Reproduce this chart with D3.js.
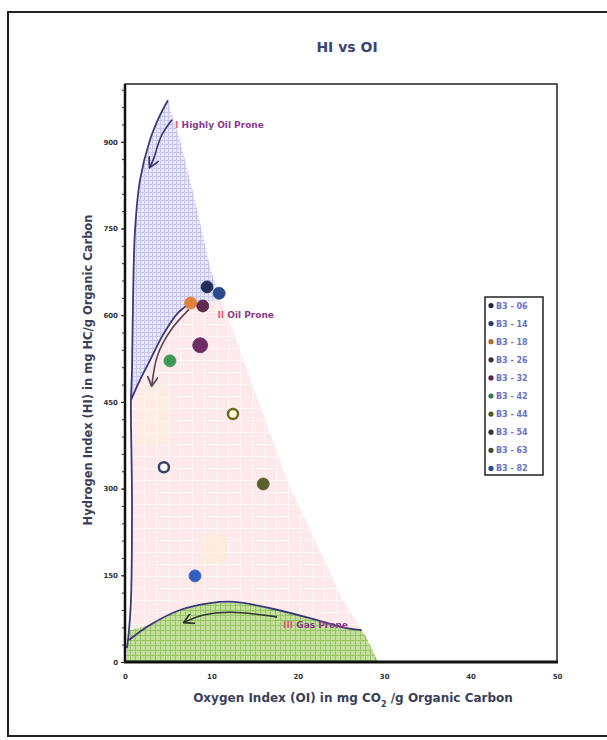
<!DOCTYPE html>
<meta charset="utf-8">
<style>
    body { margin: 0; background: #fff; }
    .tick text { font-family: "DejaVu Sans", sans-serif; font-size: 7px; font-weight: bold; fill: #333; }
    .axis path { display: none; }
    .axis line { stroke: #222; }
    .lbl { font-family: "DejaVu Sans", sans-serif; font-size: 9px; font-weight: bold; }
</style>
<svg width="607" height="740"></svg>
<script src="https://d3js.org/d3.v7.min.js"></script>
<script>

// samples
var samples = ["B3 - 06", "B3 - 14", "B3 - 18", "B3 - 26", "B3 - 32", "B3 - 42", "B3 - 44", "B3 - 54", "B3 - 63", "B3 - 82"];
var oiValues = [9.5, 10.9, 7.6, 9.0, 8.7, 5.2, 12.5, 4.5, 16.0, 8.1];
var hiValues = [649, 638, 621, 616, 548, 521, 429, 337, 308, 149];
var colors = ["#262b5a", "#2b4a8e", "#e0823a", "#5e2a4e", "#6b2d62", "#3d9a55", "#6b6a1f", "#3a4060", "#57602e", "#2f5fbf"];
var hollow = [false, false, false, false, false, false, true, true, false, false];
var sizes = [6, 6, 6, 6, 7.5, 6, 5, 5, 6, 6];

var xTicks = [0, 10, 20, 30, 40, 50];
var yTicks = [0, 150, 300, 450, 600, 750, 900];

// kerogen type fields, [OI, HI]
var leftEdge = [[0.23, 24], [0.46, 55], [0.69, 107], [0.81, 280], [0.69, 419], [0.69, 453], [0.81, 505], [0.93, 626], [1.16, 747], [1.74, 834], [2.89, 903], [4.05, 946], [4.98, 972]];
var rightEdge = [[4.98, 972], [5.44, 946], [6.37, 903], [8.1, 799], [9.84, 683], [11.1, 626], [11.6, 609], [15.4, 453], [18.75, 315], [25.2, 107], [27.4, 55], [27.8, 47], [29.3, 0]];
var typeOneTwo = [[0.69, 453], [1.74, 488], [2.89, 522], [4.4, 566], [6.13, 604], [7.75, 623], [11.1, 626]];
var gasCurve = [[0.46, 38], [2.89, 64], [6.37, 90], [9.84, 102], [12.7, 104], [16.8, 93], [21.4, 76], [25.5, 59], [27.4, 55]];

var arrowTop = [[5.44, 938], [4.2, 910], [3.3, 870], [2.9, 857]];
var arrowMid = [[7.4, 610], [5.3, 574], [3.8, 532], [3.1, 479]];
var arrowGas = [[17.6, 78], [12.2, 86], [9.0, 81], [6.9, 69]];

var fieldLabels = [
    {num: "I", text: "Highly Oil Prone", at: [5.8, 924]},
    {num: "II", text: "Oil Prone", at: [10.7, 595]},
    {num: "III", text: "Gas Prone", at: [18.3, 58]}
];

var svg = d3.select("svg");

var x = d3.scaleLinear().domain([0, 50]).range([125, 557]),
    y = d3.scaleLinear().domain([0, 1000]).range([662, 84]);

// outer frame
svg.append("rect")
    .attr("x", 8).attr("y", 12).attr("width", 640).attr("height", 724)
    .attr("fill", "none").attr("stroke", "#222").attr("stroke-width", 2);

svg.append("text")
    .attr("x", 347).attr("y", 52)
    .attr("text-anchor", "middle")
    .attr("font-family", "DejaVu Sans, sans-serif")
    .attr("font-size", 14).attr("font-weight", "bold")
    .attr("fill", "#3b4370")
    .text("HI vs OI");

// hatch patterns
var defs = svg.append("defs");
function hatch(id, size, bg, line, w) {
    var p = defs.append("pattern").attr("id", id)
        .attr("width", size).attr("height", size)
        .attr("patternUnits", "userSpaceOnUse");
    p.append("rect").attr("width", size).attr("height", size).attr("fill", bg);
    p.append("path").attr("d", "M0,0.5H" + size + "M0.5,0V" + size)
        .attr("stroke", line).attr("stroke-width", w);
}
hatch("hBlue", 4, "#e8e8f8", "#c6c6ee", 1);
hatch("hPink", 12, "#fde8ea", "#fff4f5", 1.5);
hatch("hGreen", 5, "#c4df9c", "#97c465", 1);

var line = d3.line().x(function(d) { return x(d[0]); }).y(function(d) { return y(d[1]); });
var smooth = d3.line().x(function(d) { return x(d[0]); }).y(function(d) { return y(d[1]); }).curve(d3.curveCatmullRom);

var leftUpper = leftEdge.slice(5);   // from I/II junction up
var leftLower = leftEdge.slice(0, 6); // bottom up to junction

// type I
var blue = leftUpper.concat(rightEdge.slice(1, 6)).concat(typeOneTwo.slice().reverse().slice(1));
svg.append("path").attr("d", line(blue) + "Z").attr("fill", "url(#hBlue)");

// type II
var pink = typeOneTwo.concat(rightEdge.slice(6, 11)).concat(gasCurve.slice().reverse().slice(1))
    .concat(leftLower.slice(1).filter(function(d) { return d[1] > 38; }));
svg.append("path").attr("d", line(pink) + "Z").attr("fill", "url(#hPink)");

// faint yellow patches
svg.append("rect").attr("x", x(1.5)).attr("y", y(480)).attr("width", 30).attr("height", 60).attr("fill", "#fff3d8").attr("opacity", 0.35);
svg.append("rect").attr("x", x(9)).attr("y", y(220)).attr("width", 22).attr("height", 28).attr("fill", "#fff1cc").attr("opacity", 0.4);

// type III
var green = [[0.2, 0]].concat(leftLower.slice(0, 2)).concat(gasCurve.slice(1)).concat(rightEdge.slice(11));
svg.append("path").attr("d", line(green) + "Z").attr("fill", "url(#hGreen)");

// boundary lines
svg.append("path").attr("d", smooth(leftEdge)).attr("fill", "none").attr("stroke", "#3a3a7a").attr("stroke-width", 1.8);
svg.append("path").attr("d", smooth(typeOneTwo.slice(0, 6))).attr("fill", "none").attr("stroke", "#3a3a7a").attr("stroke-width", 1.8);
svg.append("path").attr("d", smooth(gasCurve)).attr("fill", "none").attr("stroke", "#3a3a7a").attr("stroke-width", 1.8);

// arrows
defs.append("marker").attr("id", "head")
    .attr("viewBox", "0 0 10 10").attr("refX", 8).attr("refY", 5)
    .attr("markerWidth", 7).attr("markerHeight", 7).attr("orient", "auto")
    .append("path").attr("d", "M0,0L9,5L0,10").attr("fill", "none").attr("stroke", "context-stroke").attr("stroke-width", 1.6);
[[arrowTop, "#34346a"], [arrowMid, "#5a4650"], [arrowGas, "#2c3a2c"]].forEach(function(a) {
    svg.append("path").attr("d", smooth(a[0])).attr("fill", "none")
        .attr("stroke", a[1]).attr("stroke-width", 1.6)
        .attr("marker-end", "url(#head)");
});

// field labels
fieldLabels.forEach(function(f) {
    var t = svg.append("text").attr("class", "lbl")
        .attr("x", x(f.at[0])).attr("y", y(f.at[1]));
    t.append("tspan").attr("fill", "#e0607a").text(f.num + "  ");
    t.append("tspan").attr("fill", "#8a3a8c").text(f.text);
});

// plot border
svg.append("rect").attr("x", 125).attr("y", 84).attr("width", 432).attr("height", 578)
    .attr("fill", "none").attr("stroke", "#222").attr("stroke-width", 1.5);
svg.append("line").attr("x1", 125).attr("x2", 125).attr("y1", 84).attr("y2", 663).attr("stroke", "#111").attr("stroke-width", 2.5);
svg.append("line").attr("x1", 124).attr("x2", 558).attr("y1", 662).attr("y2", 662).attr("stroke", "#111").attr("stroke-width", 3);

// axes
svg.append("g").attr("class", "axis")
    .attr("transform", "translate(0,662)")
    .call(d3.axisBottom(x).tickValues(xTicks).tickSize(0).tickPadding(12).tickFormat(d3.format("d")));

svg.append("g").attr("class", "axis")
    .attr("transform", "translate(125,0)")
    .call(d3.axisLeft(y).tickValues(d3.range(0, 1000, 30)).tickSize(3).tickFormat(""));
svg.append("g").attr("class", "axis")
    .attr("transform", "translate(125,0)")
    .call(d3.axisLeft(y).tickValues(yTicks).tickSize(4).tickPadding(3).tickFormat(d3.format("d")));

svg.append("text")
    .attr("x", 353).attr("y", 702)
    .attr("text-anchor", "middle")
    .attr("font-family", "DejaVu Sans, sans-serif")
    .attr("font-size", 12).attr("font-weight", "bold")
    .attr("fill", "#3a3f58")
    .html("Oxygen Index (OI) in mg CO<tspan baseline-shift='sub' font-size='8'>2</tspan>  /g Organic Carbon");

svg.append("text")
    .attr("transform", "translate(92,370) rotate(-90)")
    .attr("text-anchor", "middle")
    .attr("font-family", "DejaVu Sans, sans-serif")
    .attr("font-size", 11.5).attr("font-weight", "bold")
    .attr("fill", "#3a3f58")
    .text("Hydrogen Index (HI) in mg HC/g Organic Carbon");

// points
svg.selectAll("circle.pt")
    .data(samples)
    .enter().append("circle")
    .attr("class", "pt")
    .attr("cx", function(d, i) { return x(oiValues[i]); })
    .attr("cy", function(d, i) { return y(hiValues[i]); })
    .attr("r", function(d, i) { return sizes[i]; })
    .attr("fill", function(d, i) { return hollow[i] ? (i == 6 ? "#fffbe0" : "#fff") : colors[i]; })
    .attr("stroke", function(d, i) { return colors[i]; })
    .attr("stroke-width", function(d, i) { return hollow[i] ? 2.5 : 0.8; });

// legend
var lg = svg.append("g").attr("transform", "translate(485,297)");
lg.append("rect").attr("width", 58).attr("height", 178)
    .attr("fill", "#fff").attr("stroke", "#222").attr("stroke-width", 1.5);
var item = lg.selectAll("g.item").data(samples).enter().append("g")
    .attr("transform", function(d, i) { return "translate(0," + (8.5 + i * 18.1) + ")"; });
item.append("circle").attr("cx", 6).attr("cy", 0).attr("r", 2.6)
    .attr("fill", function(d, i) { return d3.color(colors[i]).darker(0.6); });
item.append("text").attr("x", 11).attr("y", 3)
    .attr("font-family", "DejaVu Sans, sans-serif")
    .attr("font-size", 8).attr("font-weight", "bold")
    .attr("fill", "#6a72c4")
    .text(function(d) { return d; });

</script>
